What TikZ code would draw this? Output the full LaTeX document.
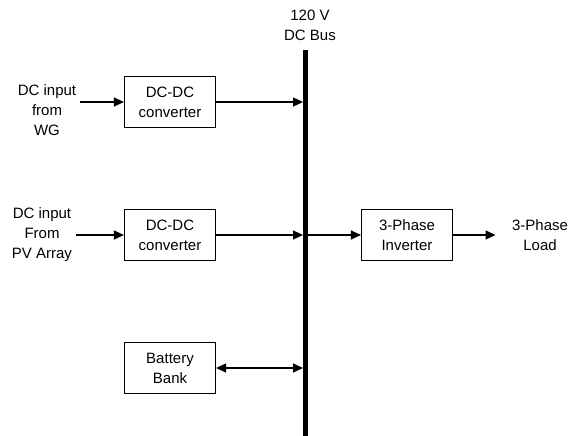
\documentclass[tikz,border=0pt]{standalone}
\usepackage{fontspec}
\setmainfont{Liberation Sans}
\usetikzlibrary{arrows.meta,positioning}
\begin{document}
\begin{tikzpicture}[
                x=1pt, y=-1pt,
                every node/.style={font=\fontsize{15}{20}\selectfont, align=center},
                block/.style={draw, line width=1.2pt, minimum width=91pt, minimum height=51pt},
                flow/.style={line width=1.2pt, -{Triangle[length=10pt,width=9pt]}},
                twoway/.style={line width=1.2pt, {Triangle[length=10pt,width=9pt]}-{Triangle[length=10pt,width=9pt]}},
                bus/.style={line width=5pt}
            ]

            \useasboundingbox (0,0) rectangle (570,436);

            % blocks
            \node[block] (conv1) at (170,102) {DC-DC\\converter};
            \node[block] (conv2) at (170,235) {DC-DC\\converter};
            \node[block] (battery) at (170,368) {Battery\\Bank};
            \node[block] (inverter) at (407,235) {3-Phase\\Inverter};

            % texts
            \node (wg) at (47,110) {DC input\\from\\WG};
            \node (pv) at (42,235) {DC input\\From\\PV Array};
            \node (load) at (540,235) {3-Phase\\Load};
            \node (buslabel) at (310,25) {120 V\\DC Bus};

            % bus
            \coordinate (bustop) at (305.5,50);
            \coordinate (busbot) at (305.5,436);
            \draw[bus] (bustop) -- (busbot);

            % connectors
            \draw[flow] (conv1.west -| wg.east) -- (conv1.west);
            \draw[flow] (pv.east) -- (conv2.west);
            \draw[flow, shorten >=2.5pt] (conv1.east) -- (conv1.east -| bustop);
            \draw[flow, shorten >=2.5pt] (conv2.east) -- (conv2.east -| bustop);
            \draw[twoway, shorten >=2.5pt] (battery.east) -- (battery.east -| bustop);
            \draw[flow] (conv2.east -| bustop) -- (inverter.west);
            \draw[flow] (inverter.east) -- ([xshift=-13pt]load.west);

        \end{tikzpicture}
\end{document}
